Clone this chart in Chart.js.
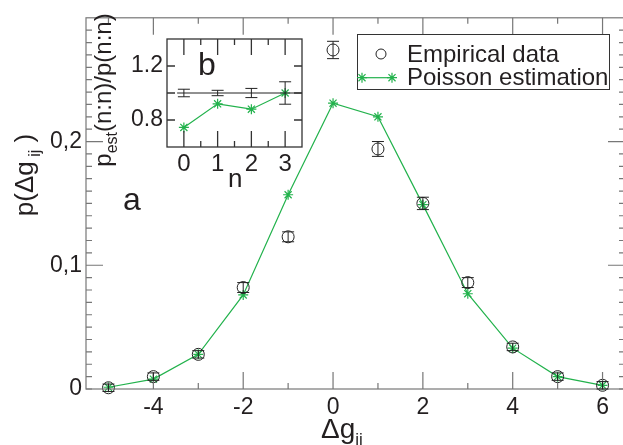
<!DOCTYPE html>
<html>
<head>
<meta charset="utf-8">
<script src="https://cdn.jsdelivr.net/npm/chart.js@4.4.1/dist/chart.umd.min.js"></script>
<style>
  html, body { margin: 0; padding: 0; background: #fff; overflow: hidden; }
  #wrap { position: relative; width: 632px; height: 445px; }
  #main { position: absolute; left: 0; top: 0; }
  #inset { position: absolute; left: 90px; top: 0; }
</style>
</head>
<body>
<div id="wrap">
  <canvas id="main" width="632" height="445"></canvas>
  <canvas id="inset" width="225" height="200"></canvas>
</div>
<script>
// main panel (a): distribution of Δg_ij
const dg = [-5, -4, -3, -2, -1, 0, 1, 2, 3, 4, 5, 6];
const empirical = [0.001, 0.010, 0.028, 0.082, 0.123, 0.274, 0.194, 0.150, 0.086, 0.034, 0.010, 0.003];
const empiricalErr = [0.003, 0.003, 0.003, 0.004, 0.004, 0.007, 0.006, 0.005, 0.004, 0.003, 0.003, 0.003];
const poisson = [0.0014, 0.008, 0.028, 0.076, 0.157, 0.231, 0.220, 0.149, 0.077, 0.033, 0.010, 0.003];

const xTicksMain = [-4, -2, 0, 2, 4, 6];
const xMinorMain = [-5, -3, -1, 1, 3, 5];
const yTicksMain = [0, 0.1, 0.2];
const yMajorMain = [0.1, 0.2];

// inset panel (b): ratio p_est(n:n)/p(n:n)
const nVals = [0, 1, 2, 3];
const ratioEmp = [1.0, 1.0, 1.0, 1.0];
const ratioEmpErr = [0.028, 0.02, 0.034, 0.083];
const ratioPoisson = [0.745, 0.92, 0.88, 1.0];
const refX = [-0.2, 3.5];
const refY = [1, 1];

const xTicksInset = [0, 1, 2, 3];
const xMinorInset = [0.5, 1.5, 2.5];
const yTicksInset = [0.8, 1.2];
const yMajorInset = [0.8, 1.0, 1.2];

const FONT = '"Liberation Sans", Arial, sans-serif';
const TEXT = '#231f20';
const GREEN = '#22b24c';

function pts(xs, ys) {
  return xs.map((v, i) => ({ x: v, y: ys[i] }));
}

// box frame + inward ticks on all four sides
const frameTicks = {
  id: 'frameTicks',
  afterDatasetsDraw(chart, args, o) {
    const { ctx, chartArea: a, scales: { x, y } } = chart;
    ctx.save();
    ctx.strokeStyle = o.color;
    ctx.lineWidth = o.width;
    ctx.beginPath();
    const tx = (vals, len) => vals.forEach(v => {
      const px = x.getPixelForValue(v);
      ctx.moveTo(px, a.bottom); ctx.lineTo(px, a.bottom - len);
      ctx.moveTo(px, a.top); ctx.lineTo(px, a.top + len);
    });
    const ty = (vals, len) => vals.forEach(v => {
      const py = y.getPixelForValue(v);
      ctx.moveTo(a.left, py); ctx.lineTo(a.left + len, py);
      ctx.moveTo(a.right, py); ctx.lineTo(a.right - len, py);
    });
    tx(o.xMajor, o.majorLen);
    tx(o.xMinor, o.minorLen);
    ty(o.yMajor, o.yMajorLen || o.majorLen);
    ty(o.yMinor || [], o.minorLen);
    ctx.stroke();
    ctx.strokeRect(a.left, a.top, a.right - a.left, a.bottom - a.top);
    ctx.restore();
  }
};

const errorBars = {
  id: 'errorBars',
  afterDatasetsDraw(chart, args, o) {
    const ctx = chart.ctx;
    const y = chart.scales.y;
    ctx.save();
    ctx.strokeStyle = o.color;
    ctx.lineWidth = 1;
    chart.data.datasets.forEach((ds, i) => {
      if (!ds.errors) return;
      const meta = chart.getDatasetMeta(i);
      meta.data.forEach((el, j) => {
        const v = ds.data[j].y, e = ds.errors[j];
        const t = y.getPixelForValue(v + e), b = y.getPixelForValue(v - e);
        ctx.beginPath();
        ctx.moveTo(el.x, t); ctx.lineTo(el.x, b);
        ctx.moveTo(el.x - o.cap, t); ctx.lineTo(el.x + o.cap, t);
        ctx.moveTo(el.x - o.cap, b); ctx.lineTo(el.x + o.cap, b);
        ctx.stroke();
      });
    });
    ctx.restore();
  }
};

const whiteArea = {
  id: 'whiteArea',
  beforeDraw(chart) {
    const { ctx, chartArea: a } = chart;
    ctx.save();
    ctx.fillStyle = '#fff';
    ctx.fillRect(a.left, a.top, a.right - a.left, a.bottom - a.top);
    ctx.restore();
  }
};

const boxLegend = {
  id: 'boxLegend',
  afterDraw(chart, args, o) {
    if (!o.show) return;
    const ctx = chart.ctx;
    ctx.save();
    ctx.strokeStyle = '#333';
    ctx.lineWidth = 1;
    ctx.strokeRect(o.x + 0.5, o.y + 0.5, o.w, o.h);
    ctx.font = o.size + 'px ' + FONT;
    ctx.textBaseline = 'middle';
    chart.data.datasets.filter(ds => ds.label).forEach((ds, i) => {
      const cy = o.y + o.row1 + i * o.gap;
      ctx.strokeStyle = ds.pointBorderColor;
      ctx.fillStyle = 'rgba(0,0,0,0)';
      const style = { pointStyle: ds.pointStyle, radius: ds.legendRadius, rotation: 0, borderWidth: ds.pointBorderWidth };
      if (ds.showLine) {
        ctx.lineWidth = ds.borderWidth;
        ctx.beginPath();
        ctx.moveTo(o.x + o.lineFrom, cy); ctx.lineTo(o.x + o.lineTo, cy);
        ctx.stroke();
        ctx.lineWidth = ds.pointBorderWidth;
        Chart.helpers.drawPoint(ctx, style, o.x + o.lineFrom, cy);
        Chart.helpers.drawPoint(ctx, style, o.x + o.lineTo, cy);
      } else {
        ctx.lineWidth = ds.pointBorderWidth;
        Chart.helpers.drawPoint(ctx, style, o.x + o.mark, cy);
      }
      ctx.fillStyle = TEXT;
      ctx.fillText(ds.label, o.x + o.textX, cy + 1);
    });
    ctx.restore();
  }
};

// free text with sub/superscript parts
const texts = {
  id: 'texts',
  afterDraw(chart, args, o) {
    const ctx = chart.ctx;
    o.items.forEach(item => {
      ctx.save();
      ctx.translate(item.x, item.y);
      if (item.rotate) ctx.rotate(item.rotate);
      ctx.fillStyle = TEXT;
      ctx.textBaseline = 'alphabetic';
      ctx.textAlign = 'left';
      const widths = item.parts.map(p => {
        ctx.font = p.size + 'px ' + FONT;
        return ctx.measureText(p.text).width;
      });
      let cx = item.center ? -widths.reduce((s, w) => s + w, 0) / 2 : 0;
      item.parts.forEach((p, i) => {
        ctx.font = p.size + 'px ' + FONT;
        ctx.fillText(p.text, cx, p.dy || 0);
        cx += widths[i];
      });
      ctx.restore();
    });
  }
};

const tickFont = { family: FONT, size: 23 };

new Chart(document.getElementById('main'), {
  type: 'scatter',
  data: {
    datasets: [
      {
        label: 'Empirical data',
        data: pts(dg, empirical),
        errors: empiricalErr,
        showLine: false,
        pointStyle: 'circle',
        pointRadius: 6,
        legendRadius: 5,
        pointBorderColor: '#222',
        pointBackgroundColor: 'rgba(0,0,0,0)',
        pointBorderWidth: 1,
        clip: false
      },
      {
        label: 'Poisson estimation',
        data: pts(dg, poisson),
        showLine: true,
        borderColor: GREEN,
        borderWidth: 1.2,
        pointStyle: 'star',
        pointRadius: 5,
        legendRadius: 5,
        pointBorderColor: GREEN,
        pointBorderWidth: 1.2,
        clip: false
      }
    ]
  },
  options: {
    responsive: false,
    animation: false,
    events: [],
    layout: { padding: { top: 13, right: 6, left: 0, bottom: 0 } },
    plugins: {
      legend: { display: false },
      tooltip: { enabled: false },
      frameTicks: {
        color: '#777', width: 1.2,
        xMajor: xTicksMain, xMinor: xMinorMain,
        yMajor: yMajorMain, yMinor: Array.from({ length: 30 }, (_, i) => i / 100),
        majorLen: 17, minorLen: 6
      },
      errorBars: { color: '#222', cap: 6 },
      boxLegend: {
        show: true, x: 357, y: 34, w: 252, h: 55, row1: 20, gap: 23.7,
        mark: 24, lineFrom: 5, lineTo: 35, textX: 50, size: 24
      },
      texts: {
        items: [
          { x: 123, y: 210, parts: [{ text: 'a', size: 32 }] },
          { x: 33, y: 175, rotate: -Math.PI / 2, center: true,
            parts: [{ text: 'p(Δg', size: 26 }, { text: ' ij', size: 16, dy: 7 }, { text: ' )', size: 26 }] },
          { x: 321, y: 438,
            parts: [{ text: 'Δ', size: 28 }, { text: 'g', size: 28 }, { text: 'ij', size: 17, dy: 7 }] }
        ]
      }
    },
    scales: {
      x: {
        type: 'linear', min: -5.5, max: 6.5,
        afterBuildTicks: s => { s.ticks = xTicksMain.map(v => ({ value: v })); },
        afterFit: s => { s.height = 56; },
        grid: { display: false, drawTicks: false },
        border: { display: false },
        ticks: { font: tickFont, color: TEXT, padding: 5, maxRotation: 0, autoSkip: false }
      },
      y: {
        type: 'linear', min: 0, max: 0.3,
        afterBuildTicks: s => { s.ticks = yTicksMain.map(v => ({ value: v })); },
        afterFit: s => { s.width = 86; },
        grid: { display: false, drawTicks: false },
        border: { display: false },
        ticks: {
          font: tickFont, color: TEXT, padding: 4, autoSkip: false,
          callback: v => v === 0 ? '0' : v.toFixed(1).replace('.', ',')
        }
      }
    }
  },
  plugins: [frameTicks, errorBars, boxLegend, texts]
});

new Chart(document.getElementById('inset'), {
  type: 'scatter',
  data: {
    datasets: [
      { data: pts(refX, refY), showLine: true, borderColor: '#222', borderWidth: 1, pointRadius: 0, clip: false },
      { data: pts(nVals, ratioEmp), errors: ratioEmpErr, showLine: false, pointRadius: 0 },
      {
        data: pts(nVals, ratioPoisson), showLine: true, borderColor: GREEN, borderWidth: 1.2,
        pointStyle: 'star', pointRadius: 5, pointBorderColor: GREEN, pointBorderWidth: 1.2, clip: false
      }
    ]
  },
  options: {
    responsive: false,
    animation: false,
    events: [],
    layout: { padding: { top: 39, right: 13, left: 0, bottom: 0 } },
    plugins: {
      legend: { display: false },
      tooltip: { enabled: false },
      frameTicks: {
        color: '#333', width: 1.3,
        xMajor: xTicksInset, xMinor: xMinorInset,
        yMajor: yMajorInset, majorLen: 16, yMajorLen: 8, minorLen: 6
      },
      errorBars: { color: '#222', cap: 6 },
      boxLegend: { show: false },
      texts: {
        items: [
          { x: 108, y: 75, parts: [{ text: 'b', size: 32 }] },
          { x: 138, y: 187, parts: [{ text: 'n', size: 26 }] },
          { x: 21, y: 90, rotate: -Math.PI / 2, center: true,
            parts: [{ text: 'p', size: 24 }, { text: 'est', size: 16, dy: 6 }, { text: '(n:n)/p(n:n)', size: 24 }] }
        ]
      }
    },
    scales: {
      x: {
        type: 'linear', min: -0.5, max: 3.5,
        afterBuildTicks: s => { s.ticks = xTicksInset.map(v => ({ value: v })); },
        afterFit: s => { s.height = 53; },
        grid: { display: false, drawTicks: false },
        border: { display: false },
        ticks: { font: { family: FONT, size: 24 }, color: TEXT, padding: 3, maxRotation: 0, autoSkip: false }
      },
      y: {
        type: 'linear', min: 0.6, max: 1.4,
        afterBuildTicks: s => { s.ticks = yTicksInset.map(v => ({ value: v })); },
        afterFit: s => { s.width = 77; },
        grid: { display: false, drawTicks: false },
        border: { display: false },
        ticks: { font: tickFont, color: TEXT, padding: 4, autoSkip: false, callback: v => v.toFixed(1) }
      }
    }
  },
  plugins: [whiteArea, frameTicks, errorBars, texts]
});
</script>
</body>
</html>
